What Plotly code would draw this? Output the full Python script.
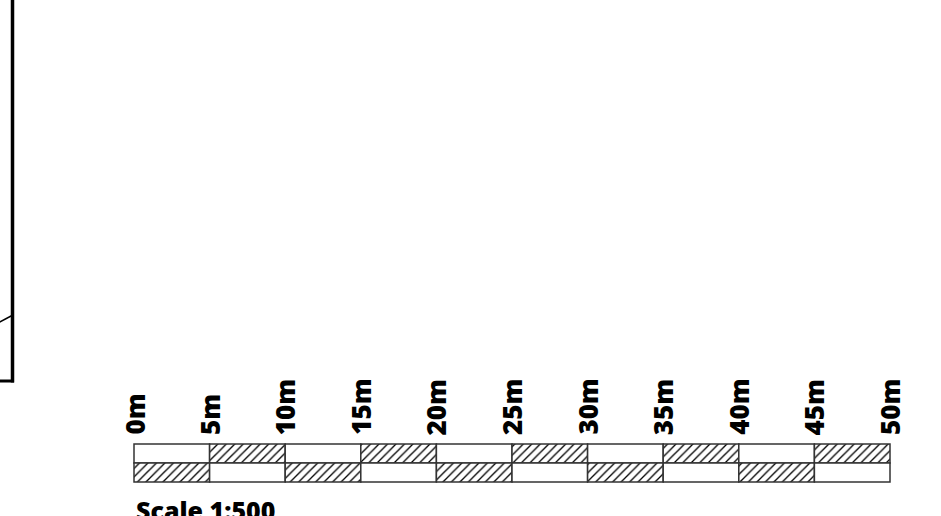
import plotly.graph_objects as go

# Scale bar data (metres)
tick_values = [0, 5, 10, 15, 20, 25, 30, 35, 40, 45, 50]
tick_labels = ["0m", "5m", "10m", "15m", "20m", "25m", "30m", "35m", "40m", "45m", "50m"]
segment_starts = [0, 5, 10, 15, 20, 25, 30, 35, 40, 45]
segment_length = [5, 5, 5, 5, 5, 5, 5, 5, 5, 5]
top_hatched = [False, True, False, True, False, True, False, True, False, True]
bottom_hatched = [True, False, True, False, True, False, True, False, True, False]
scale_text = "Scale 1:500"

W, H = 941, 516
px_per_m = (890 - 134) / 50.0
x0_px = 134
xrange = [-x0_px / px_per_m, (W - x0_px) / px_per_m]
row_px = 19.0
yrange = [-0.5 - (H - 482) / row_px, 1.5 + 444 / row_px]

FONT = "Open Sans"

fig = go.Figure()

def add_row(yval, hatched):
    fig.add_trace(go.Bar(
        orientation="h",
        x=segment_length,
        base=segment_starts,
        y=[yval] * len(segment_starts),
        width=1.0,
        marker=dict(
            color="white",
            line=dict(color="#333333", width=1.5),
            pattern=dict(
                shape=["/" if h else "" for h in hatched],
                fgcolor="black",
                bgcolor="white",
                fgopacity=1,
                size=6,
                solidity=0.22,
            ),
        ),
        hoverinfo="skip",
        showlegend=False,
    ))

add_row(1, top_hatched)
add_row(0, bottom_hatched)

for v, lab in zip(tick_values, tick_labels):
    fig.add_annotation(
        x=v, y=1.5 + (444 - 437) / row_px,
        text=lab, textangle=-90,
        xanchor="center", yanchor="bottom",
        showarrow=False,
        font=dict(family=FONT, size=26, color="black", weight=800),
    )

fig.add_annotation(
    x=tick_values[0], y=-0.5 - (491 - 482) / row_px,
    text=scale_text, xanchor="left", yanchor="top",
    showarrow=False,
    font=dict(family=FONT, size=25, color="black", weight=800),
)

# left cut-off drawing border (decoration)
def px(xp):
    return xp / W

def py(yp):
    return 1 - yp / H

fig.add_shape(type="line", xref="paper", yref="paper",
              x0=px(12.5), x1=px(12.5), y0=py(-2), y1=py(382.5),
              line=dict(color="black", width=3.5))
fig.add_shape(type="line", xref="paper", yref="paper",
              x0=px(-2), x1=px(14), y0=py(381), y1=py(381),
              line=dict(color="black", width=3))
fig.add_shape(type="line", xref="paper", yref="paper",
              x0=px(-1), x1=px(12), y0=py(322.5), y1=py(315.5),
              line=dict(color="black", width=1.5))

fig.update_layout(
    width=W, height=H,
    margin=dict(l=0, r=0, t=0, b=0),
    paper_bgcolor="white", plot_bgcolor="white",
    barmode="overlay",
    xaxis=dict(range=xrange, visible=False, fixedrange=True),
    yaxis=dict(range=yrange, visible=False, fixedrange=True),
)

fig.write_html("out.html", config={"displayModeBar": False},
               post_script="document.body.style.margin='0';document.body.style.overflow='hidden';")
